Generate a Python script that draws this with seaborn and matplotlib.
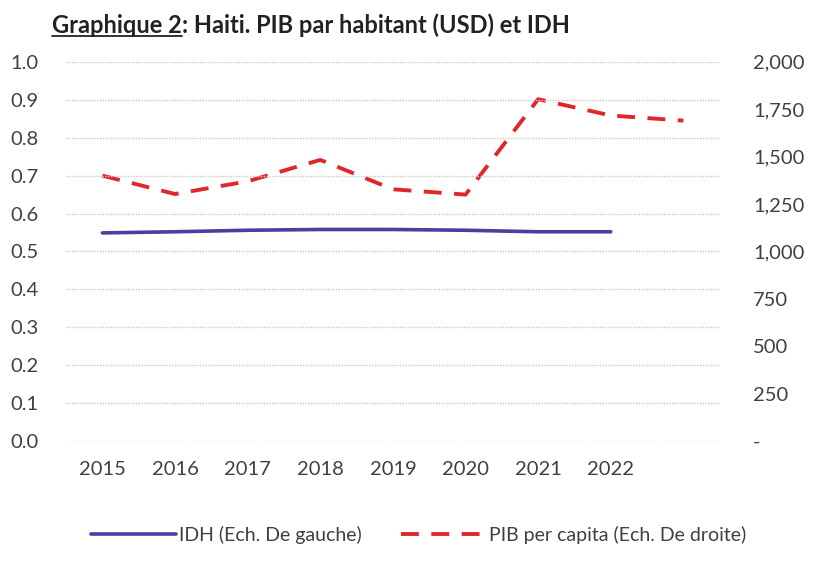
import numpy as np
import pandas as pd
import matplotlib
matplotlib.use("Agg")
import matplotlib.pyplot as plt
import seaborn as sns

# Data
years = ['2015', '2016', '2017', '2018', '2019', '2020', '2021', '2022', '2023']
year_labels = ['2015', '2016', '2017', '2018', '2019', '2020', '2021', '2022', '']
idh = [0.549, 0.552, 0.556, 0.558, 0.558, 0.556, 0.552, 0.552, np.nan]
pib = [1400, 1303, 1370, 1483, 1328, 1300, 1803, 1717, 1690]

df = pd.DataFrame({'pos': np.arange(len(years)), 'year': years, 'IDH': idh, 'PIB': pib})

sns.set_style('white')
plt.rcParams['font.family'] = ['Lato', 'DejaVu Sans']

fig = plt.figure(figsize=(8.16, 5.62), dpi=100)
ax = fig.add_axes([0.081, 0.215, 0.801, 0.675])
ax2 = ax.twinx()

idh_color = '#4a3f9e'
pib_color = '#e0282c'
text_color = '#404040'

sns.lineplot(data=df.dropna(subset=['IDH']), x='pos', y='IDH', ax=ax, color=idh_color,
             linewidth=2.6, label='IDH (Ech. De gauche)', legend=False)
sns.lineplot(data=df, x='pos', y='PIB', ax=ax2, color=pib_color, linewidth=2.8,
             linestyle=(0, (4.6, 3.2)), label='PIB per capita (Ech. De droite)', legend=False)

ax.set_ylim(0, 1.0)
ax.set_yticks(np.arange(0, 1.01, 0.1))
ax.set_yticklabels([f'{v:.1f}' for v in np.arange(0, 1.01, 0.1)])
ax2.set_ylim(0, 2000)
ax2.set_yticks(np.arange(0, 2001, 250))
ax2.set_yticklabels(['-'] + [f'{v:,}' for v in range(250, 2001, 250)])

ax.set_xlim(-0.5, len(years) - 0.5)
ax.set_xticks(df['pos'])
ax.set_xticklabels(year_labels)
ax.set_xlabel('')
ax.set_ylabel('')
ax2.set_ylabel('')

ax.grid(axis='y', color='#c8c8c8', linestyle=(0, (1, 1)), linewidth=1.0)
ax.grid(axis='x', visible=False)
ax2.grid(False)
for a in (ax, ax2):
    for s in a.spines.values():
        s.set_visible(False)
    a.tick_params(length=0, labelsize=14.5, labelcolor=text_color)
ax.tick_params(axis='x', pad=14)
ax.tick_params(axis='y', pad=20)
ax2.tick_params(axis='y', pad=24)
ax.set_zorder(ax2.get_zorder() + 1)
ax.patch.set_visible(False)

# Legend at the bottom
h1, l1 = ax.get_legend_handles_labels()
h2, l2 = ax2.get_legend_handles_labels()
fig.legend(h1 + h2, l1 + l2, loc='center', bbox_to_anchor=(0.513, 0.048), ncol=2,
           frameon=False, fontsize=14, handlelength=4.4, columnspacing=2.0,
           handletextpad=0.15, labelcolor=text_color)

# Title with underlined "Graphique 2"
t1 = fig.text(0.064, 0.955, 'Graphique 2', fontsize=17, fontweight='bold',
              color='#222222', va='center', ha='left')
fig.canvas.draw()
bb = t1.get_window_extent().transformed(fig.transFigure.inverted())
fig.text(bb.x1, 0.955, ': Haiti. PIB par habitant (USD) et IDH', fontsize=17,
         fontweight='bold', color='#222222', va='center', ha='left')
fig.add_artist(plt.Line2D([bb.x0, bb.x1], [bb.y0 + 0.002, bb.y0 + 0.002],
                          color='#222222', linewidth=1.3, transform=fig.transFigure))

fig.savefig('out.png', dpi=100)
